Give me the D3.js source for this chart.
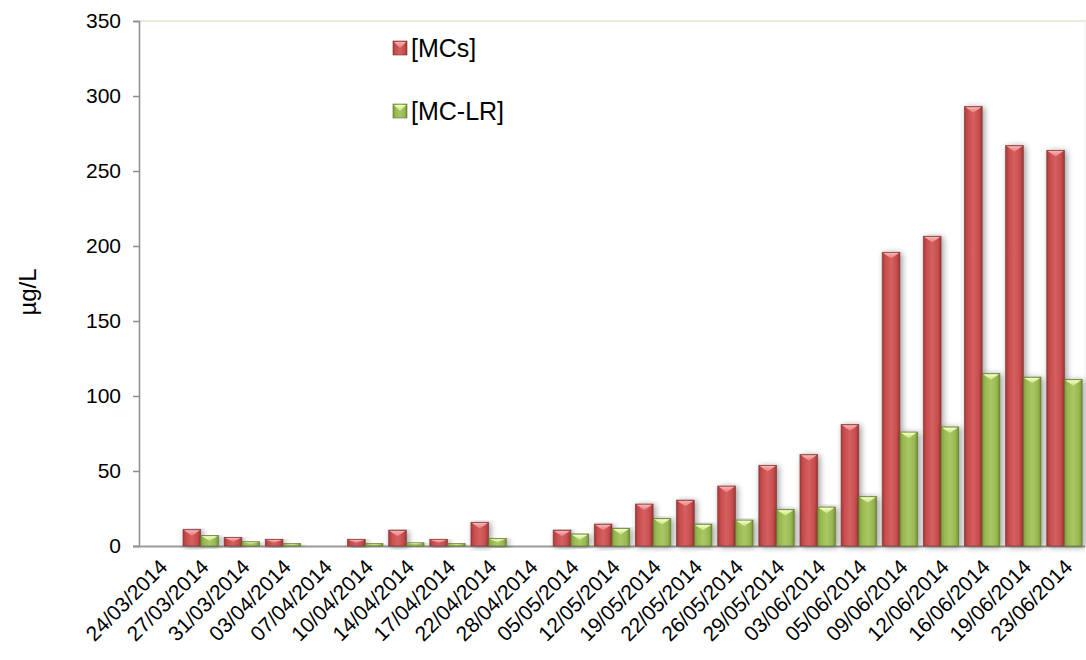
<!DOCTYPE html>
<html><head><meta charset="utf-8">
<script src="https://cdn.jsdelivr.net/npm/d3@7/dist/d3.min.js"></script>
<style>body{margin:0;background:#fff}svg{display:block}text{font-family:"Liberation Sans",Arial,sans-serif;fill:#000}</style>
</head><body>
<svg id="c" width="1086" height="660"></svg>
<script>
const categories = ["24/03/2014","27/03/2014","31/03/2014","03/04/2014","07/04/2014","10/04/2014","14/04/2014","17/04/2014","22/04/2014","28/04/2014","05/05/2014","12/05/2014","19/05/2014","22/05/2014","26/05/2014","29/05/2014","03/06/2014","05/06/2014","09/06/2014","12/06/2014","16/06/2014","19/06/2014","23/06/2014"];
const mcs   = [0, 11, 5.8, 4.5, 0, 4.5, 10.6, 4.5, 15.8, 0, 10.6, 14.6, 28, 30.6, 40, 53.8, 61, 81, 195.8, 206.5, 293, 267, 263.8];
const mclr  = [0, 7, 2.9, 1.8, 0, 1.8, 2.2, 1.8, 5.1, 0, 8, 11.8, 18.4, 14.6, 17.3, 24.4, 26, 33, 76, 79.4, 115, 112.6, 111];
const seriesNames = ["[MCs]", "[MC-LR]"];
const yTicks = [0, 50, 100, 150, 200, 250, 300, 350];

const svg = d3.select("#c");
const L = 139, R = 1085, T = 21, B = 546;
const FONT = "Liberation Sans, Arial, sans-serif";

const defs = svg.append("defs");
function grad(id, stops, horiz) {
  const g = defs.append("linearGradient").attr("id", id)
    .attr("x1", 0).attr("y1", 0).attr("x2", horiz ? 1 : 0).attr("y2", horiz ? 0 : 1);
  stops.forEach(s => g.append("stop").attr("offset", s[0]).attr("stop-color", s[1]));
}
grad("gRed", [[0,"#a63a3a"],[0.18,"#c94d4d"],[0.5,"#d46060"],[0.82,"#c94d4d"],[1,"#9c3535"]], true);
grad("gGreen", [[0,"#7d9a3a"],[0.18,"#98b850"],[0.5,"#a8c865"],[0.82,"#98b850"],[1,"#758f37"]], true);
grad("tRed", [[0,"#f7b3b3"],[1,"#e47c7c"]], false);
grad("tGreen", [[0,"#f4ffc8"],[1,"#c8e07e"]], false);
const f = defs.append("filter").attr("id", "sh").attr("x", "-50%").attr("y", "-10%").attr("width", "200%").attr("height", "130%");
f.append("feGaussianBlur").attr("in", "SourceAlpha").attr("stdDeviation", 3).attr("result", "b");
f.append("feOffset").attr("in", "b").attr("dx", 2).attr("dy", 1).attr("result", "o");
f.append("feComponentTransfer").attr("in", "o").attr("result", "o2")
  .append("feFuncA").attr("type", "linear").attr("slope", 0.4);
const m = f.append("feMerge"); m.append("feMergeNode").attr("in", "o2"); m.append("feMergeNode").attr("in", "SourceGraphic");

const x0 = d3.scaleBand().domain(categories).range([L, R]).paddingInner(0).paddingOuter(0);
const x1 = d3.scaleBand().domain(seriesNames).range([0, x0.bandwidth() * 0.86]).padding(0);
const off = x0.bandwidth() * 0.07;
const y = d3.scaleLinear().domain([0, 350]).range([B, T]);

// plot frame (top/right light)
svg.append("line").attr("x1", L).attr("x2", R + 1).attr("y1", T).attr("y2", T).attr("stroke", "#eceadb").attr("stroke-width", 2);
svg.append("line").attr("x1", R).attr("x2", R).attr("y1", T).attr("y2", B).attr("stroke", "#f0f0f0").attr("stroke-width", 1);

// y axis
const yAxis = d3.axisLeft(y).tickValues(yTicks).tickSize(6).tickPadding(12);
const ya = svg.append("g").attr("transform", `translate(${L},0)`).call(yAxis);
ya.attr("font-size", null).attr("font-family", null);
ya.select(".domain").attr("stroke", "#8c8c8c").attr("stroke-width", 1.5);
ya.selectAll(".tick line").attr("stroke", "#8c8c8c").attr("stroke-width", 1.5);
ya.selectAll(".tick text").style("font-size", "21px").style("font-family", FONT).attr("fill", "#000");

svg.append("text").attr("transform", `translate(36,292) rotate(-90)`).attr("text-anchor", "middle")
  .style("font-size", "24px").text("µg/L");

// baseline
svg.append("line").attr("x1", L - 6).attr("x2", R).attr("y1", B + 0.5).attr("y2", B + 0.5).attr("stroke", "#9a9a9a").attr("stroke-width", 2);

// bars
const series = [{name: seriesNames[0], vals: mcs, g: "gRed", t: "tRed", s: "#7a3434"},
                {name: seriesNames[1], vals: mclr, g: "gGreen", t: "tGreen", s: "#5e7230"}];
const bw = x1.bandwidth();
series.forEach(sr => {
  const gg = svg.append("g");
  categories.forEach((c, i) => {
    const v = sr.vals[i];
    if (!v) return;
    const xx = x0(c) + off + x1(sr.name), yy = y(v), h = B - yy;
    const bar = gg.append("g").attr("filter", "url(#sh)");
    bar.append("rect").attr("x", xx).attr("y", yy).attr("width", bw).attr("height", h)
      .attr("fill", `url(#${sr.g})`).attr("stroke", sr.s).attr("stroke-width", 0.8).attr("stroke-opacity", 0.8);
    const th = Math.min(bw * 0.35, h * 0.5);
    bar.append("path").attr("d", `M${xx + 1},${yy + 0.8} L${xx + bw - 1},${yy + 0.8} L${xx + bw / 2},${yy + th} Z`)
      .attr("fill", `url(#${sr.t})`);
  });
});

// x labels
const xl = svg.append("g");
categories.forEach(c => {
  const cx = x0(c) + x0.bandwidth() / 2;
  xl.append("text").attr("transform", `translate(${cx + 4},${B + 17}) rotate(-45)`)
    .attr("text-anchor", "end").style("font-size", "21px").attr("dy", "0.35em").text(c);
});

// legend
const leg = [{n: seriesNames[0], g: "gRed", t: "tRed", s: "#7a3434", y: 48},
             {n: seriesNames[1], g: "gGreen", t: "tGreen", s: "#5e7230", y: 111}];
leg.forEach(l => {
  svg.append("rect").attr("x", 393).attr("y", l.y - 7).attr("width", 14).attr("height", 14)
    .attr("fill", `url(#${l.g})`).attr("stroke", l.s).attr("stroke-width", 0.6);
  svg.append("path").attr("d", `M394,${l.y - 6} L406,${l.y - 6} L400,${l.y} Z`).attr("fill", `url(#${l.t})`);
  svg.append("text").attr("x", 411).attr("y", l.y).attr("dy", "0.36em").style("font-size", "25px").text(l.n);
});
</script>
</body></html>
